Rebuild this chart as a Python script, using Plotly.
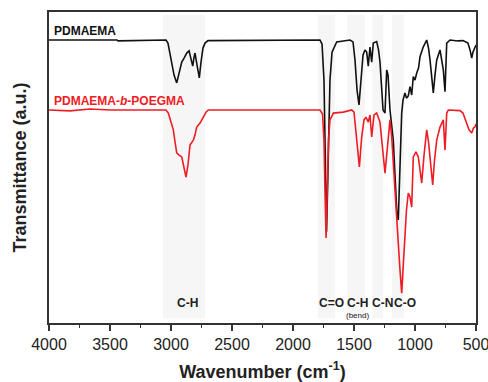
import plotly.graph_objects as go

# ---- data ----
wn_pdmaema = [4000, 3443, 3434, 3041, 3025, 3000, 2975, 2953, 2934, 2912, 2893, 2871, 2852, 2836, 2822,
              2811, 2803, 2787, 2768, 2754, 2738, 2721, 2697, 1779, 1762, 1746, 1734, 1725, 1713, 1697,
              1680, 1642, 1533, 1508, 1492, 1475, 1459, 1443, 1426, 1410, 1396, 1383, 1369, 1355, 1342,
              1314, 1299, 1287, 1275, 1262, 1246, 1232, 1221, 1205, 1178, 1164, 1150, 1137, 1123, 1109,
              1098, 1082, 1070, 1055, 1041, 1027, 1014, 1000, 986, 971, 959, 932, 904, 889, 877, 850,
              836, 822, 795, 768, 754, 740, 713, 648, 607, 566, 549, 535, 525, 508, 500]
t_pdmaema = [91.0, 91.0, 90.7, 91.0, 90.0, 84.6, 79.7, 77.2, 80.7, 83.9, 85.2, 86.8, 87.5, 85.2, 82.6,
             85.5, 86.8, 83.0, 78.8, 83.9, 88.4, 90.0, 90.8, 91.0, 89.7, 78.1, 49.2, 29.3, 49.2, 78.1,
             87.1, 90.4, 91.0, 90.4, 84.6, 74.9, 70.1, 78.1, 86.2, 87.8, 87.1, 82.6, 88.7, 83.9, 90.0,
             90.5, 87.8, 83.9, 74.9, 68.5, 67.5, 81.4, 79.7, 68.5, 58.8, 49.2, 36.3, 33.1, 49.2, 67.5,
             71.7, 74.0, 72.3, 73.0, 76.0, 73.3, 79.2, 78.1, 80.4, 82.0, 85.6, 88.8, 91.0, 88.4, 84.6, 74.0,
             79.7, 84.6, 87.8, 81.4, 74.4, 90.0, 91.0, 90.7, 90.8, 90.0, 87.8, 85.2, 87.1, 88.9, 89.4]

wn_block = [4000, 3828, 3664, 3500, 3041, 3022, 3000, 2981, 2967, 2953, 2934, 2912, 2898, 2877, 2861,
            2844, 2817, 2803, 2789, 2762, 2735, 2713, 2694, 1779, 1758, 1746, 1738, 1729, 1719, 1709,
            1697, 1669, 1588, 1519, 1500, 1478, 1456, 1437, 1418, 1402, 1383, 1369, 1355, 1336, 1314,
            1287, 1270, 1260, 1246, 1232, 1219, 1205, 1191, 1178, 1164, 1150, 1137, 1123, 1109, 1096,
            1082, 1070, 1055, 1041, 1027, 1014, 992, 973, 959, 945, 926, 904, 889, 877, 855, 840, 822,
            795, 768, 754, 740, 727, 631, 607, 576, 557, 535, 521, 508, 500]
t_block = [68.5, 68.2, 68.8, 68.5, 68.5, 67.5, 64.6, 62.1, 58.2, 54.7, 54.0, 53.4, 50.8, 46.9, 50.8,
           57.2, 58.8, 60.5, 63.0, 64.3, 66.2, 67.8, 68.5, 68.5, 67.2, 58.8, 42.8, 27.3, 42.8, 58.8,
           65.3, 67.5, 67.8, 68.5, 67.8, 58.8, 50.2, 59.8, 65.3, 66.2, 64.6, 66.9, 59.8, 66.9, 67.5,
           64.6, 57.2, 52.4, 48.2, 54.0, 58.8, 65.3, 59.8, 50.8, 42.8, 34.7, 25.7, 17.0, 9.6, 18.6,
           27.7, 36.3, 41.8, 40.5, 37.3, 53.4, 55.0, 53.4, 49.2, 45.0, 54.0, 62.1, 58.2, 53.4, 44.4, 52.4, 58.8,
           63.0, 65.3, 55.6, 67.5, 68.5, 68.3, 67.5, 64.3, 62.1, 61.1, 62.7, 63.1, 64.0]

band_lo = [2721, 1656, 1410, 1262, 1090]
band_hi = [3066, 1795, 1557, 1350, 1190]

peak_labels = ["C-H", "C=O", "C-H", "C-N", "C-O"]
peak_pos = [2861, 1688, 1471, 1270, 1082]

series_names = ["PDMAEMA", "PDMAEMA-<i>b</i>-POEGMA"]
xticks = [4000, 3500, 3000, 2500, 2000, 1500, 1000, 500]

FONT = "Liberation Sans, Arial, sans-serif"

fig = go.Figure()

for lo, hi in zip(band_lo, band_hi):
    fig.add_shape(type="rect", xref="x", yref="y", x0=hi, x1=lo, y0=1.5, y1=99,
                  fillcolor="rgba(170,170,170,0.10)", line_width=0, layer="below")

fig.add_trace(go.Scatter(x=wn_pdmaema, y=t_pdmaema, mode="lines",
                         line=dict(color="#111111", width=1.6), showlegend=False))
fig.add_trace(go.Scatter(x=wn_block, y=t_block, mode="lines",
                         line=dict(color="#ee1c24", width=1.6), showlegend=False))

fig.add_annotation(x=3975, y=94.0, text="<b>" + series_names[0] + "</b>", showarrow=False,
                   xanchor="left", yanchor="middle", font=dict(family=FONT, size=12, color="#111111"))
fig.add_annotation(x=3975, y=71.4, text="<b>" + series_names[1] + "</b>", showarrow=False,
                   xanchor="left", yanchor="middle", font=dict(family=FONT, size=12, color="#ee1c24"))

for lab, pos in zip(peak_labels, peak_pos):
    fig.add_annotation(x=pos, y=6.4, text="<b>" + lab + "</b>", showarrow=False,
                       xanchor="center", yanchor="middle", font=dict(family=FONT, size=12, color="#222222"))
fig.add_annotation(x=1471, y=2.4, text="(bend)", showarrow=False, xanchor="center", yanchor="middle",
                   font=dict(family=FONT, size=8, color="#222222"))

fig.update_layout(
    width=488, height=382,
    margin=dict(l=49, r=12, t=12, b=59, autoexpand=False),
    paper_bgcolor="white", plot_bgcolor="white",
    font=dict(family=FONT, color="#222222"),
)
fig.update_xaxes(
    range=[4000, 500], autorange=False, automargin=False,
    tickvals=xticks, ticktext=[str(v) for v in xticks], ticklabeloverflow="allow",
    ticks="outside", ticklen=6, tickwidth=1.5, tickcolor="#333333",
    minor=dict(dtick=250, ticks="outside", ticklen=3, tickwidth=1.2, tickcolor="#333333", showgrid=False),
    showline=True, linecolor="#333333", linewidth=2, mirror=True,
    showgrid=False, zeroline=False,
    tickfont=dict(family=FONT, size=16, color="#222222"),
    title=dict(text="<b>Wavenumber (cm<sup>-1</sup>)</b>", font=dict(family=FONT, size=18, color="#222222"),
               standoff=20),
)
fig.update_yaxes(
    range=[0, 100], autorange=False, automargin=False,
    showticklabels=False, ticks="",
    showline=True, linecolor="#333333", linewidth=2, mirror=True,
    showgrid=False, zeroline=False,
    title=dict(text="<b>Transmittance (a.u.)</b>", font=dict(family=FONT, size=18, color="#222222"),
               standoff=16),
)

fig.write_html("out.html")
